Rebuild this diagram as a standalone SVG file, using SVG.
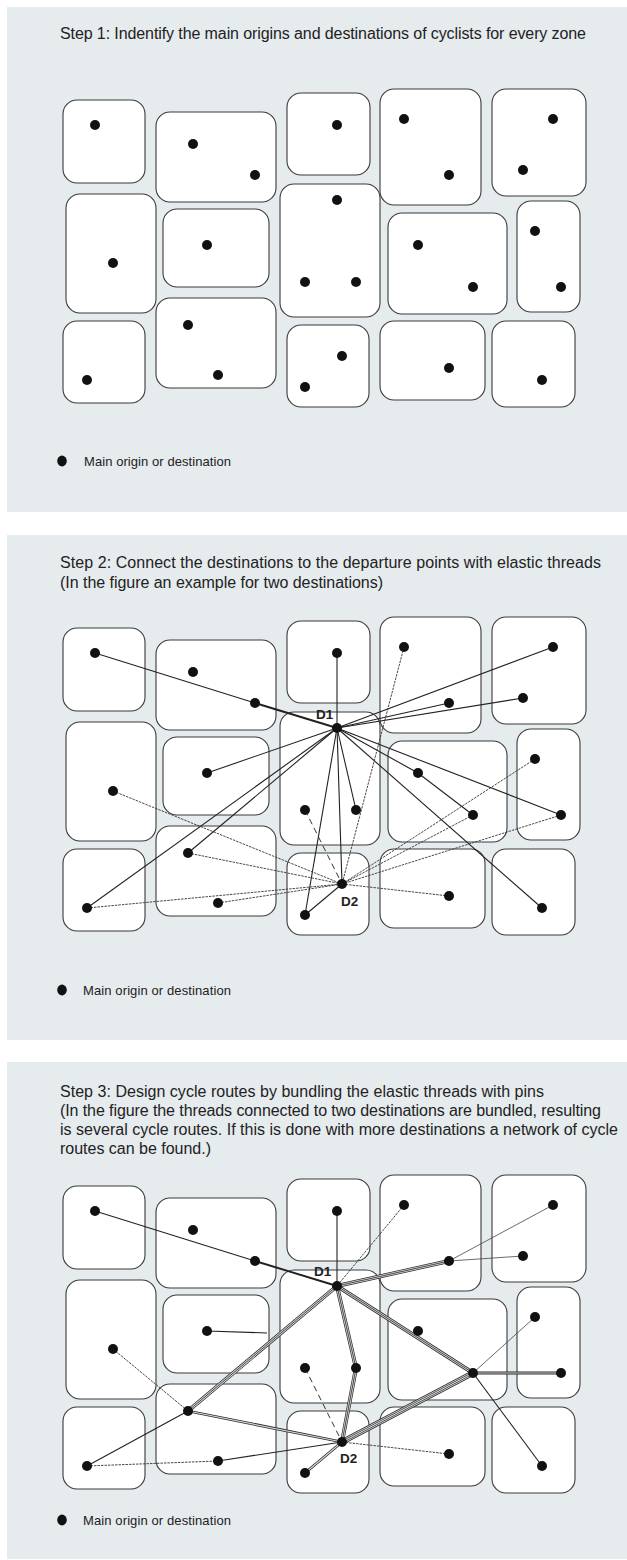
<svg xmlns="http://www.w3.org/2000/svg" width="627" height="1560" viewBox="0 0 627 1560">
<style>
.panel{fill:#e6ebee}
.zone{fill:#fff;stroke:#3a3a3a;stroke-width:1.1}
.dot{fill:#111}
.t{font-family:"Liberation Sans",Arial,sans-serif;font-size:16px;fill:#222}
.lg{font-size:13px}
.dl{font-family:"Liberation Sans",Arial,sans-serif;font-weight:bold;font-size:13.5px;fill:#222}
.s{stroke:#222;stroke-width:1.1;fill:none}
.s2{stroke:#222;stroke-width:1.9;fill:none}
.th{stroke:#444;stroke-width:0.8;fill:none}
.d{stroke:#333;stroke-width:0.9;stroke-dasharray:2.5 1;fill:none}
.dash{stroke:#333;stroke-width:1;stroke-dasharray:6 4;fill:none}
.bo3{stroke:#2a2a2a;stroke-width:4;fill:none}
.bi3{stroke:#d6d6d6;stroke-width:2.6;fill:none}
.bo2{stroke:#2a2a2a;stroke-width:2.8;fill:none}
.bi2{stroke:#d6d6d6;stroke-width:1.2;fill:none}
.bo4{stroke:#2a2a2a;stroke-width:5.4;fill:none}
.bi4{stroke:#d6d6d6;stroke-width:4;fill:none}
.bm4{stroke:#2a2a2a;stroke-width:2.5;fill:none}
.bn4{stroke:#d6d6d6;stroke-width:1.1;fill:none}
.bc{stroke:#2a2a2a;stroke-width:0.8;fill:none}
</style>

<!-- Panel backgrounds and texts -->
<g id="panel1">
<rect class="panel" x="7" y="7" width="620" height="505"/>
<text class="t" x="60" y="39" textLength="526" lengthAdjust="spacing">Step 1: Indentify the main origins and destinations of cyclists for every zone</text>
<ellipse class="dot" cx="62" cy="461" rx="4.8" ry="5.4"/>
<text class="t lg" x="84" y="466" textLength="147" lengthAdjust="spacing">Main origin or destination</text>
</g>
<g id="panel2">
<rect class="panel" x="7" y="535" width="620" height="505"/>
<text class="t" x="60" y="568" textLength="541" lengthAdjust="spacing">Step 2: Connect the destinations to the departure points with elastic threads</text>
<text class="t" x="60" y="588" textLength="323" lengthAdjust="spacing">(In the figure an example for two destinations)</text>
<ellipse class="dot" cx="62" cy="990" rx="4.8" ry="5.4"/>
<text class="t lg" x="83" y="995" textLength="148" lengthAdjust="spacing">Main origin or destination</text>
</g>
<g id="panel3">
<rect class="panel" x="7" y="1062" width="620" height="497"/>
<text class="t" x="60" y="1097" textLength="484" lengthAdjust="spacing">Step 3: Design cycle routes by bundling the elastic threads with pins</text>
<text class="t" x="60" y="1116" textLength="541" lengthAdjust="spacing">(In the figure the threads connected to two destinations are bundled, resulting</text>
<text class="t" x="60" y="1135" textLength="558" lengthAdjust="spacing">is several cycle routes. If this is done with more destinations a network of cycle</text>
<text class="t" x="60" y="1154" textLength="151" lengthAdjust="spacing">routes can be found.)</text>
<ellipse class="dot" cx="62" cy="1520" rx="4.8" ry="5.4"/>
<text class="t lg" x="83" y="1525" textLength="148" lengthAdjust="spacing">Main origin or destination</text>
</g>

<!-- Zones -->
<g id="zones-p1">
<g id="p1-zA"><rect class="zone" x="63" y="100" width="82" height="83" rx="14"/></g>
<g id="p1-zB"><rect class="zone" x="156" y="112" width="120" height="90" rx="14"/></g>
<g id="p1-zC"><rect class="zone" x="287" y="93" width="83" height="82" rx="14"/></g>
<g id="p1-zD"><rect class="zone" x="380" y="89" width="101" height="116" rx="14"/></g>
<g id="p1-zE"><rect class="zone" x="492" y="89" width="94" height="107" rx="14"/></g>
<g id="p1-zF"><rect class="zone" x="66" y="194" width="90" height="119" rx="14"/></g>
<g id="p1-zG"><rect class="zone" x="163" y="209" width="106" height="78" rx="14"/></g>
<g id="p1-zH"><rect class="zone" x="280" y="184" width="100" height="133" rx="14"/></g>
<g id="p1-zI"><rect class="zone" x="388" y="213" width="119" height="101" rx="14"/></g>
<g id="p1-zJ"><rect class="zone" x="517" y="201" width="63" height="111" rx="14"/></g>
<g id="p1-zK"><rect class="zone" x="63" y="321" width="82" height="82" rx="14"/></g>
<g id="p1-zL"><rect class="zone" x="156" y="298" width="120" height="90" rx="14"/></g>
<g id="p1-zM"><rect class="zone" x="287" y="325" width="82" height="82" rx="14"/></g>
<g id="p1-zN"><rect class="zone" x="380" y="321" width="105" height="79" rx="14"/></g>
<g id="p1-zO"><rect class="zone" x="492" y="321" width="83" height="86" rx="14"/></g>
</g>
<g id="zones-p2" transform="translate(0,528)">
<g id="p2-zA"><rect class="zone" x="63" y="100" width="82" height="83" rx="14"/></g>
<g id="p2-zB"><rect class="zone" x="156" y="112" width="120" height="90" rx="14"/></g>
<g id="p2-zC"><rect class="zone" x="287" y="93" width="83" height="82" rx="14"/></g>
<g id="p2-zD"><rect class="zone" x="380" y="89" width="101" height="116" rx="14"/></g>
<g id="p2-zE"><rect class="zone" x="492" y="89" width="94" height="107" rx="14"/></g>
<g id="p2-zF"><rect class="zone" x="66" y="194" width="90" height="119" rx="14"/></g>
<g id="p2-zG"><rect class="zone" x="163" y="209" width="106" height="78" rx="14"/></g>
<g id="p2-zH"><rect class="zone" x="280" y="184" width="100" height="133" rx="14"/></g>
<g id="p2-zI"><rect class="zone" x="388" y="213" width="119" height="101" rx="14"/></g>
<g id="p2-zJ"><rect class="zone" x="517" y="201" width="63" height="111" rx="14"/></g>
<g id="p2-zK"><rect class="zone" x="63" y="321" width="82" height="82" rx="14"/></g>
<g id="p2-zL"><rect class="zone" x="156" y="298" width="120" height="90" rx="14"/></g>
<g id="p2-zM"><rect class="zone" x="287" y="325" width="82" height="82" rx="14"/></g>
<g id="p2-zN"><rect class="zone" x="380" y="321" width="105" height="79" rx="14"/></g>
<g id="p2-zO"><rect class="zone" x="492" y="321" width="83" height="86" rx="14"/></g>
</g>
<g id="zones-p3" transform="translate(0,1086)">
<g id="p3-zA"><rect class="zone" x="63" y="100" width="82" height="83" rx="14"/></g>
<g id="p3-zB"><rect class="zone" x="156" y="112" width="120" height="90" rx="14"/></g>
<g id="p3-zC"><rect class="zone" x="287" y="93" width="83" height="82" rx="14"/></g>
<g id="p3-zD"><rect class="zone" x="380" y="89" width="101" height="116" rx="14"/></g>
<g id="p3-zE"><rect class="zone" x="492" y="89" width="94" height="107" rx="14"/></g>
<g id="p3-zF"><rect class="zone" x="66" y="194" width="90" height="119" rx="14"/></g>
<g id="p3-zG"><rect class="zone" x="163" y="209" width="106" height="78" rx="14"/></g>
<g id="p3-zH"><rect class="zone" x="280" y="184" width="100" height="133" rx="14"/></g>
<g id="p3-zI"><rect class="zone" x="388" y="213" width="119" height="101" rx="14"/></g>
<g id="p3-zJ"><rect class="zone" x="517" y="201" width="63" height="111" rx="14"/></g>
<g id="p3-zK"><rect class="zone" x="63" y="321" width="82" height="82" rx="14"/></g>
<g id="p3-zL"><rect class="zone" x="156" y="298" width="120" height="90" rx="14"/></g>
<g id="p3-zM"><rect class="zone" x="287" y="325" width="82" height="82" rx="14"/></g>
<g id="p3-zN"><rect class="zone" x="380" y="321" width="105" height="79" rx="14"/></g>
<g id="p3-zO"><rect class="zone" x="492" y="321" width="83" height="86" rx="14"/></g>
</g>

<!-- Connectors -->
<g id="connectors">
<g id="conn-p2" transform="translate(0,528)">
<path class="s" d="M95 125L255 175"/>
<path class="s2" d="M255 175L337 200"/>
<path class="s" d="M337 125L337 200"/>
<path class="s" d="M553 119L337 200"/>
<path class="s" d="M449 175L337 200"/>
<path class="s" d="M523 170L337 200"/>
<path class="s" d="M207 245L337 200"/>
<path class="s" d="M188 325L337 200"/>
<path class="s" d="M87 380L337 200"/>
<path class="s" d="M356 282L337 200"/>
<path class="s" d="M305 387L337 200"/>
<path class="s" d="M342 356L337 200"/>
<path class="s" d="M337 200L418 245L473 287"/>
<path class="s" d="M561 287L337 200"/>
<path class="s" d="M542 380L337 200"/>
<path class="d" d="M113 263L342 356"/>
<path class="d" d="M188 325L342 356"/>
<path class="d" d="M218 375L342 356"/>
<path class="d" d="M87 380L342 356"/>
<path class="dash" d="M305 282L342 356"/>
<path class="d" d="M404 119L342 356"/>
<path class="d" d="M535 231L342 356"/>
<path class="d" d="M473 287L342 356"/>
<path class="d" d="M561 287L342 356"/>
<path class="d" d="M449 368L342 356"/>
<path class="s" d="M305 387L342 356"/>
</g>
<g id="conn-p3" transform="translate(0,1086)">
<path class="s" d="M95 125L255 175"/>
<path class="s2" d="M255 175L337 200"/>
<path class="s" d="M337 125L337 200"/>
<path class="d" d="M404 119L337 200"/>
<path class="th" d="M553 119L449 175"/>
<path class="th" d="M523 170L449 175"/>
<path class="s" d="M207 245L267 247"/>
<path class="d" d="M113 263L188 325"/>
<path class="s" d="M87 380L188 325"/>
<path class="d" d="M87 380L218 375"/>
<path class="s" d="M218 375L342 356"/>
<path class="dash" d="M305 282L342 356"/>
<path class="s" d="M473 287L542 380"/>
<path class="th" d="M535 231L473 287"/>
<path class="d" d="M449 368L342 356"/>
<path class="bo3" d="M449 175L337 200"/>
<path class="bo3" d="M188 325L337 200"/>
<path class="bo3" d="M337 200L356 282L342 356"/>
<path class="bo3" d="M337 200L473 287"/>
<path class="bi3" d="M449 175L337 200"/>
<path class="bi3" d="M188 325L337 200"/>
<path class="bi3" d="M337 200L356 282L342 356"/>
<path class="bi3" d="M337 200L473 287"/>
<path class="bc" d="M449 175L337 200"/>
<path class="bc" d="M188 325L337 200"/>
<path class="bc" d="M337 200L356 282L342 356"/>
<path class="bc" d="M337 200L473 287"/>
<path class="bo2" d="M188 325L342 356"/>
<path class="bo2" d="M305 387L342 356"/>
<path class="bo2" d="M473 287L561 287"/>
<path class="bi2" d="M188 325L342 356"/>
<path class="bi2" d="M305 387L342 356"/>
<path class="bi2" d="M473 287L561 287"/>
<path class="bo4" d="M473 287L342 356"/>
<path class="bi4" d="M473 287L342 356"/>
<path class="bm4" d="M473 287L342 356"/>
<path class="bn4" d="M473 287L342 356"/>
</g>
</g>

<!-- Points (origins / destinations) -->
<g id="points-p1">
<g id="p1-a1"><circle class="dot" cx="95" cy="125" r="5"/></g>
<g id="p1-b1"><circle class="dot" cx="193" cy="144" r="5"/></g>
<g id="p1-b2"><circle class="dot" cx="255" cy="175" r="5"/></g>
<g id="p1-c1"><circle class="dot" cx="337" cy="125" r="5"/></g>
<g id="p1-d1"><circle class="dot" cx="404" cy="119" r="5"/></g>
<g id="p1-d2"><circle class="dot" cx="449" cy="175" r="5"/></g>
<g id="p1-e1"><circle class="dot" cx="553" cy="119" r="5"/></g>
<g id="p1-e2"><circle class="dot" cx="523" cy="170" r="5"/></g>
<g id="p1-f1"><circle class="dot" cx="113" cy="263" r="5"/></g>
<g id="p1-g1"><circle class="dot" cx="207" cy="245" r="5"/></g>
<g id="p1-h1"><circle class="dot" cx="337" cy="200" r="5"/></g>
<g id="p1-h2"><circle class="dot" cx="305" cy="282" r="5"/></g>
<g id="p1-h3"><circle class="dot" cx="356" cy="282" r="5"/></g>
<g id="p1-i1"><circle class="dot" cx="418" cy="245" r="5"/></g>
<g id="p1-i2"><circle class="dot" cx="473" cy="287" r="5"/></g>
<g id="p1-j1"><circle class="dot" cx="535" cy="231" r="5"/></g>
<g id="p1-j2"><circle class="dot" cx="561" cy="287" r="5"/></g>
<g id="p1-k1"><circle class="dot" cx="87" cy="380" r="5"/></g>
<g id="p1-l1"><circle class="dot" cx="188" cy="325" r="5"/></g>
<g id="p1-l2"><circle class="dot" cx="218" cy="375" r="5"/></g>
<g id="p1-m1"><circle class="dot" cx="342" cy="356" r="5"/></g>
<g id="p1-m2"><circle class="dot" cx="305" cy="387" r="5"/></g>
<g id="p1-n1"><circle class="dot" cx="449" cy="368" r="5"/></g>
<g id="p1-o1"><circle class="dot" cx="542" cy="380" r="5"/></g>
</g>
<g id="points-p2" transform="translate(0,528)">
<g id="p2-a1"><circle class="dot" cx="95" cy="125" r="5"/></g>
<g id="p2-b1"><circle class="dot" cx="193" cy="144" r="5"/></g>
<g id="p2-b2"><circle class="dot" cx="255" cy="175" r="5"/></g>
<g id="p2-c1"><circle class="dot" cx="337" cy="125" r="5"/></g>
<g id="p2-d1"><circle class="dot" cx="404" cy="119" r="5"/></g>
<g id="p2-d2"><circle class="dot" cx="449" cy="175" r="5"/></g>
<g id="p2-e1"><circle class="dot" cx="553" cy="119" r="5"/></g>
<g id="p2-e2"><circle class="dot" cx="523" cy="170" r="5"/></g>
<g id="p2-f1"><circle class="dot" cx="113" cy="263" r="5"/></g>
<g id="p2-g1"><circle class="dot" cx="207" cy="245" r="5"/></g>
<g id="p2-D1"><circle class="dot" cx="337" cy="200" r="5"/></g>
<g id="p2-h2"><circle class="dot" cx="305" cy="282" r="5"/></g>
<g id="p2-h3"><circle class="dot" cx="356" cy="282" r="5"/></g>
<g id="p2-i1"><circle class="dot" cx="418" cy="245" r="5"/></g>
<g id="p2-i2"><circle class="dot" cx="473" cy="287" r="5"/></g>
<g id="p2-j1"><circle class="dot" cx="535" cy="231" r="5"/></g>
<g id="p2-j2"><circle class="dot" cx="561" cy="287" r="5"/></g>
<g id="p2-k1"><circle class="dot" cx="87" cy="380" r="5"/></g>
<g id="p2-l1"><circle class="dot" cx="188" cy="325" r="5"/></g>
<g id="p2-l2"><circle class="dot" cx="218" cy="375" r="5"/></g>
<g id="p2-D2"><circle class="dot" cx="342" cy="356" r="5"/></g>
<g id="p2-m2"><circle class="dot" cx="305" cy="387" r="5"/></g>
<g id="p2-n1"><circle class="dot" cx="449" cy="368" r="5"/></g>
<g id="p2-o1"><circle class="dot" cx="542" cy="380" r="5"/></g>
</g>
<g id="points-p3" transform="translate(0,1086)">
<g id="p3-a1"><circle class="dot" cx="95" cy="125" r="5"/></g>
<g id="p3-b1"><circle class="dot" cx="193" cy="144" r="5"/></g>
<g id="p3-b2"><circle class="dot" cx="255" cy="175" r="5"/></g>
<g id="p3-c1"><circle class="dot" cx="337" cy="125" r="5"/></g>
<g id="p3-d1"><circle class="dot" cx="404" cy="119" r="5"/></g>
<g id="p3-d2"><circle class="dot" cx="449" cy="175" r="5"/></g>
<g id="p3-e1"><circle class="dot" cx="553" cy="119" r="5"/></g>
<g id="p3-e2"><circle class="dot" cx="523" cy="170" r="5"/></g>
<g id="p3-f1"><circle class="dot" cx="113" cy="263" r="5"/></g>
<g id="p3-g1"><circle class="dot" cx="207" cy="245" r="5"/></g>
<g id="p3-D1"><circle class="dot" cx="337" cy="200" r="5"/></g>
<g id="p3-h2"><circle class="dot" cx="305" cy="282" r="5"/></g>
<g id="p3-h3"><circle class="dot" cx="356" cy="282" r="5"/></g>
<g id="p3-i1"><circle class="dot" cx="418" cy="245" r="5"/></g>
<g id="p3-i2"><circle class="dot" cx="473" cy="287" r="5"/></g>
<g id="p3-j1"><circle class="dot" cx="535" cy="231" r="5"/></g>
<g id="p3-j2"><circle class="dot" cx="561" cy="287" r="5"/></g>
<g id="p3-k1"><circle class="dot" cx="87" cy="380" r="5"/></g>
<g id="p3-l1"><circle class="dot" cx="188" cy="325" r="5"/></g>
<g id="p3-l2"><circle class="dot" cx="218" cy="375" r="5"/></g>
<g id="p3-D2"><circle class="dot" cx="342" cy="356" r="5"/></g>
<g id="p3-m2"><circle class="dot" cx="305" cy="387" r="5"/></g>
<g id="p3-n1"><circle class="dot" cx="449" cy="368" r="5"/></g>
<g id="p3-o1"><circle class="dot" cx="542" cy="380" r="5"/></g>
</g>

<!-- Destination labels -->
<g id="labels">
<text class="dl" x="316" y="719">D1</text>
<text class="dl" x="341" y="906">D2</text>
<text class="dl" x="314" y="1276">D1</text>
<text class="dl" x="340" y="1463">D2</text>
</g>
</svg>
